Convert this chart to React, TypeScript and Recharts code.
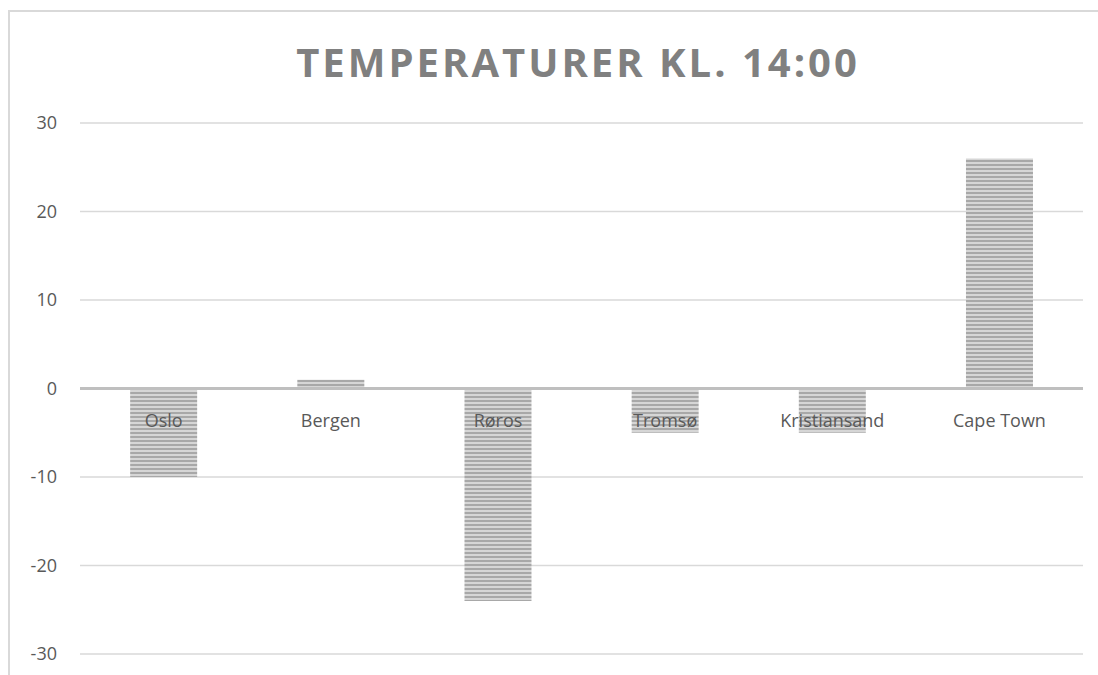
import { BarChart, Bar, XAxis, YAxis, CartesianGrid, ReferenceLine, LabelList } from 'recharts';

const cities = ['Oslo', 'Bergen', 'Røros', 'Tromsø', 'Kristiansand', 'Cape Town'];
const temps = [-10, 1, -24, -5, -5, 26];
const yTicks = [-30, -20, -10, 0, 10, 20, 30];

const chartData = cities.map((name, i) => ({ name, temp: temps[i] }));

const FONT = "'Open Sans', 'Liberation Sans', sans-serif";

function CityLabel(props: any) {
  const { x, y, width, height, index } = props;
  const v = temps[index];
  const top = Math.min(y, y + height);
  const bottom = Math.max(y, y + height);
  const zeroY = v >= 0 ? bottom : top;
  return (
    <text
      x={x + width / 2}
      y={zeroY + 31}
      textAnchor="middle"
      dominantBaseline="central"
      fontSize={18}
      fontFamily={FONT}
      fill="#595959"
    >
      {cities[index]}
    </text>
  );
}

export default function App() {
  return (
    <div style={{ position: 'absolute', left: 0, top: 0, width: 1098, height: 675, overflow: 'hidden', background: '#fff' }}>
      <svg width={0} height={0} style={{ position: 'absolute' }}>
        <defs>
          <pattern id="stripes" width={8} height={4} patternUnits="userSpaceOnUse">
            <rect width={8} height={4} fill="#d6d6d6" />
            <rect width={8} height={2} fill="#a8a8a8" />
          </pattern>
        </defs>
      </svg>
      <div
        style={{
          position: 'absolute',
          left: 8,
          top: 10,
          width: 1200,
          height: 800,
          borderTop: '2px solid #d9d9d9',
          borderLeft: '2px solid #d9d9d9',
        }}
      />
      <div
        style={{
          position: 'absolute',
          left: 0,
          width: 1156,
          top: 36,
          textAlign: 'center',
          fontFamily: FONT,
          fontWeight: 700,
          fontSize: 40,
          letterSpacing: 3,
          color: '#808080',
          lineHeight: '52px',
        }}
      >
        TEMPERATURER KL. 14:00
      </div>
      <div style={{ position: 'absolute', left: 0, top: 0 }}>
        <BarChart
          width={1098}
          height={675}
          data={chartData}
          margin={{ top: 123, right: 15, bottom: 21, left: 0 }}
          barCategoryGap="30%"
        >
          <CartesianGrid vertical={false} stroke="#d9d9d9" strokeWidth={1.5} />
          <XAxis dataKey="name" hide />
          <YAxis
            domain={[-30, 30]}
            ticks={yTicks}
            width={80}
            axisLine={false}
            tickLine={false}
            tickSize={0}
            tickMargin={23}
            tick={{ fontSize: 18, fontFamily: FONT, fill: '#595959' }}
          />
          <Bar dataKey="temp" fill="url(#stripes)" isAnimationActive={false}>
            <LabelList dataKey="name" content={CityLabel} />
          </Bar>
          <ReferenceLine y={0} stroke="#bfbfbf" strokeWidth={3} />
        </BarChart>
      </div>
    </div>
  );
}
